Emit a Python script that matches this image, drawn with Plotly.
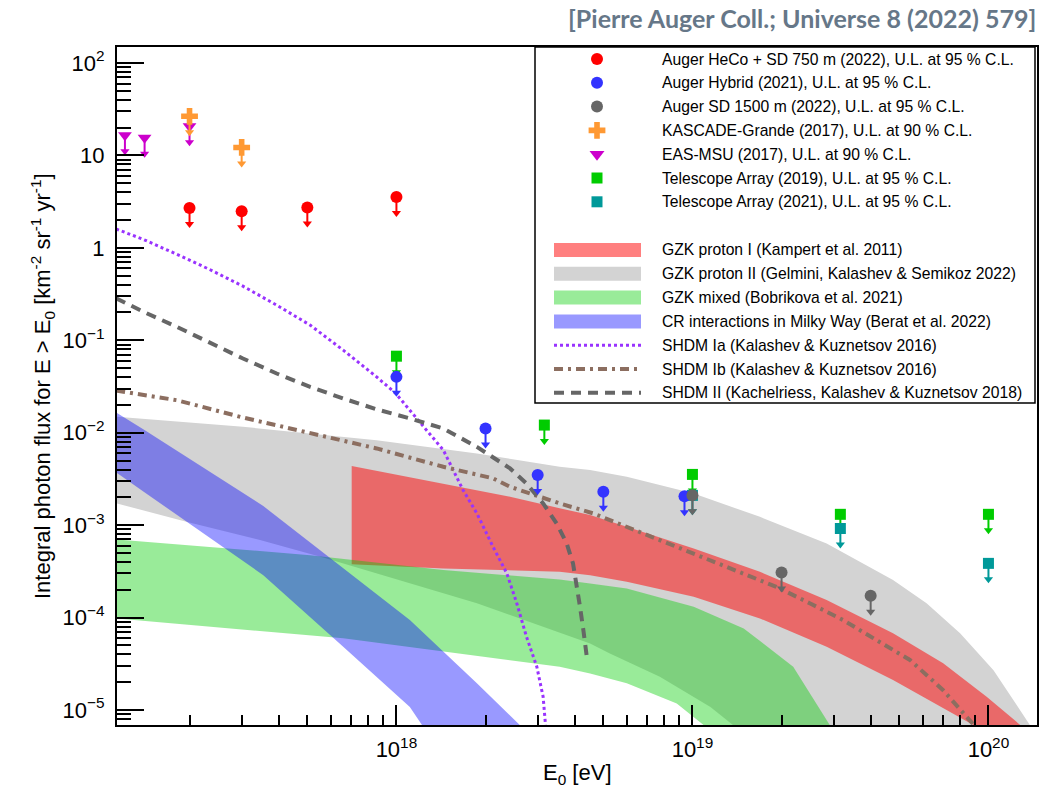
import plotly.graph_objects as go

# ---------------- measurements: integral photon flux upper limits ----------------
# threshold energy E0 [eV], flux [km^-2 sr^-1 yr^-1]
heco_E = [2e17, 3e17, 5e17, 1e18]
heco_F = [2.70, 2.49, 2.73, 3.56]

hybrid_E = [1e18, 2e18, 3e18, 5e18, 9.4e18]
hybrid_F = [0.0402, 0.0111, 0.00348, 0.0023, 0.00206]

sd1500_E = [1e19, 2e19, 4e19]
sd1500_F = [0.00211, 3.08e-4, 1.72e-4]

kascade_E = [2e17, 3e17]
kascade_F = [26.5, 12.2]

easmsu_E = [1.21e17, 1.41e17, 2e17]
easmsu_F = [16.5, 15.5, 20.7]

ta2019_E = [1e18, 3.16e18, 1e19, 3.16e19, 1e20]
ta2019_F = [0.0673, 0.0121, 0.00354, 0.00131, 0.00131]

ta2021_E = [1e19, 3.16e19, 1e20]
ta2021_F = [0.0021, 9.2e-4, 3.86e-4]

# ---------------- model bands (upper / lower edges) ----------------
gzk2_up_E = [1.135e17, 3.03e17, 8.57e17, 1.87e18, 3.56e18, 4.51e18, 6.0e18, 1.01e19,
             1.69e19, 2.84e19, 4.76e19, 6.18e19, 8.02e19, 1.04e20, 1.38e20]
gzk2_up_F = [0.01486, 0.0116, 0.0083, 0.00597, 0.00428, 0.00394, 0.00333, 0.0022,
             0.00123, 6.35e-4, 2.55e-4, 1.43e-4, 6.75e-5, 2.7e-5, 6.9e-6]
gzk2_lo_E = [1.135e17, 1.95e17, 3.46e17, 5.81e17, 1.11e18, 1.87e18, 4.51e18, 5.26e18,
             7.76e18, 1.15e19, 1.37e19]
gzk2_lo_F = [0.00172, 0.00109, 6.89e-4, 4.36e-4, 2.34e-4, 1.43e-4, 5.26e-5, 4.1e-5,
             2.29e-5, 1.08e-5, 6.9e-6]

gzk1_up_E = [7.06e17, 1.44e18, 2.42e18, 3.56e18, 4.51e18, 6.0e18, 1.01e19, 1.69e19,
             2.84e19, 4.76e19, 7.03e19, 9.86e19, 1.28e20]
gzk1_up_F = [0.00436, 0.00282, 0.00203, 0.00152, 0.00129, 9.6e-4, 5.6e-4, 3.13e-4,
             1.55e-4, 6.75e-5, 3.2e-5, 1.39e-5, 6.9e-6]
gzk1_lo_E = [7.06e17, 1.44e18, 3.56e18, 4.51e18, 6.0e18, 1.01e19, 1.69e19, 2.84e19,
             4.76e19, 8.89e19]
gzk1_lo_F = [3.77e-4, 3.4e-4, 3.13e-4, 2.88e-4, 2.44e-4, 1.68e-4, 9.8e-5, 4.83e-5,
             2.11e-5, 6.9e-6]

mixed_up_E = [1.135e17, 5.11e17, 1.44e18, 3.56e18, 4.51e18, 6.0e18, 1.01e19, 1.49e19,
              2.19e19, 2.91e19]
mixed_up_F = [7.0e-4, 4.74e-4, 3.27e-4, 2.59e-4, 2.34e-4, 2.07e-4, 1.31e-4, 7.64e-5,
              2.94e-5, 6.9e-6]
mixed_lo_E = [1.135e17, 6.61e17, 1.44e18, 3.56e18, 4.51e18, 6.0e18, 8.85e18, 1.09e19]
mixed_lo_F = [9.8e-5, 5.96e-5, 4.27e-5, 2.94e-5, 2.49e-5, 1.95e-5, 1.18e-5, 6.9e-6]

galcr_up_E = [1.135e17, 1.40e17, 3.55e17, 1.11e18, 1.87e18, 2.61e18]
galcr_up_F = [0.0164, 0.01084, 0.00161, 9.4e-5, 1.95e-5, 6.9e-6]
galcr_lo_E = [1.135e17, 1.40e17, 3.55e17, 6.61e17, 1.11e18, 1.22e18]
galcr_lo_F = [0.00368, 0.0023, 2.88e-4, 4.83e-5, 1.08e-5, 6.9e-6]

# ---------------- SHDM model curves ----------------
shdm1a_E = [1.13e17, 1.40e17, 1.81e17, 2.34e17, 3.03e17, 3.94e17, 5.11e17, 6.61e17,
            8.57e17, 9.95e17, 1.17e18, 1.44e18, 1.68e18, 1.87e18, 2.12e18, 2.36e18,
            2.55e18, 2.75e18, 2.98e18, 3.13e18, 3.19e18]
shdm1a_F = [1.60, 1.23, 0.853, 0.583, 0.385, 0.240, 0.146, 0.0782,
            0.0402, 0.0266, 0.0143, 0.00649, 0.00239, 0.00134, 5.83e-4, 3.01e-4,
            1.43e-4, 6.21e-5, 2.94e-5, 1.39e-5, 6.8e-6]

shdm1b_E = [1.13e17, 1.81e17, 3.03e17, 5.11e17, 8.57e17, 1.44e18, 2.12e18, 2.42e18,
            3.56e18, 4.62e18, 6.82e18, 1.01e19, 1.49e19, 1.92e19, 2.49e19, 3.23e19,
            4.19e19, 5.43e19, 7.03e19, 8.89e19]
shdm1b_F = [0.0285, 0.0225, 0.0146, 0.00982, 0.00676, 0.00428, 0.00321, 0.0026,
            0.00172, 0.00134, 8.15e-4, 4.94e-4, 3.01e-4, 2.15e-4, 1.43e-4, 9.4e-5,
            5.7e-5, 3.48e-5, 1.64e-5, 7.0e-6]

shdm2_E = [1.13e17, 1.40e17, 1.81e17, 2.34e17, 3.03e17, 3.94e17, 5.11e17, 6.61e17,
           8.57e17, 1.11e18, 1.44e18, 1.87e18, 2.42e18, 2.75e18, 3.13e18, 3.48e18,
           3.76e18, 3.95e18, 4.06e18, 4.17e18, 4.28e18, 4.37e18, 4.41e18]
shdm2_F = [0.285, 0.203, 0.140, 0.0938, 0.0635, 0.0437, 0.0313, 0.0235,
           0.0179, 0.0143, 0.0111, 0.00703, 0.00411, 0.00282, 0.00172, 0.00104,
           6.34e-4, 3.85e-4, 2.34e-4, 1.31e-4, 7.33e-5, 4.1e-5, 3.5e-5]

x_tick_vals = [1e18, 1e19, 1e20]
x_tick_text = ["10<sup>18</sup>", "10<sup>19</sup>", "10<sup>20</sup>"]
y_tick_vals = [1e-5, 1e-4, 1e-3, 1e-2, 1e-1, 1, 10, 100]
y_tick_text = ["10<sup>\u22125</sup>", "10<sup>\u22124</sup>", "10<sup>\u22123</sup>",
               "10<sup>\u22122</sup>", "10<sup>\u22121</sup>", "1", "10", "10<sup>2</sup>"]

# ---------------- geometry / style ----------------
W, H = 1053, 789
ML, MR, MT, MB = 117, 16, 47, 64
X_RANGE = [17.056, 20.164]
Y_RANGE = [-5.162, 2.173]
PLOT_W = W - ML - MR
PLOT_H = H - MT - MB
PX_PER_DEC_Y = PLOT_H / (Y_RANGE[1] - Y_RANGE[0])

FONT = "Liberation Sans"

RED = "#ff0000"
BLUE = "#3333ff"
GREY = "#666666"
ORANGE = "#ff9933"
MAGENTA = "#cc00cc"
GREEN = "#00cc00"
TEAL = "#009999"

FILL_GZK1 = "rgba(255,0,0,0.5)"
FILL_GZK2 = "rgb(211,211,211)"
FILL_MIXED = "rgba(0,204,0,0.4)"
FILL_GALCR = "rgba(0,0,255,0.4)"

COL_1A = "#9933ff"
COL_1B = "#8c6e60"
COL_2 = "#666666"
DASH_1A = "3px,3px"
DASH_1B = "9px,5px,3px,5px"
DASH_2 = "10px,7px"

ARROW_PX = 20      # length of the upper-limit arrows
HEAD_PX = 4        # offset of the arrow head centre above the tip

fig = go.Figure()


def band(up_E, up_F, lo_E, lo_F, color):
    fig.add_trace(go.Scatter(
        x=list(up_E) + list(lo_E)[::-1],
        y=list(up_F) + list(lo_F)[::-1],
        mode="lines", fill="toself", fillcolor=color,
        line=dict(width=0), hoverinfo="skip", showlegend=False))


def curve(E, F, color, dash, width):
    fig.add_trace(go.Scatter(x=E, y=F, mode="lines",
                             line=dict(color=color, dash=dash, width=width),
                             hoverinfo="skip", showlegend=False))


def limits(E, F, color, symbol, size):
    k_tip = 10 ** (-ARROW_PX / PX_PER_DEC_Y)
    k_head = 10 ** (HEAD_PX / PX_PER_DEC_Y)
    xs, ys = [], []
    for e, f in zip(E, F):
        xs += [e, e, None]
        ys += [f, f * k_tip * k_head, None]
    fig.add_trace(go.Scatter(x=xs, y=ys, mode="lines",
                             line=dict(color=color, width=2),
                             hoverinfo="skip", showlegend=False))
    fig.add_trace(go.Scatter(x=E, y=[f * k_tip * k_head for f in F], mode="markers",
                             marker=dict(symbol="triangle-down", size=8, color=color),
                             hoverinfo="skip", showlegend=False))
    fig.add_trace(go.Scatter(x=E, y=F, mode="markers",
                             marker=dict(symbol=symbol, size=size, color=color),
                             showlegend=False))


# bands
band(gzk2_up_E, gzk2_up_F, gzk2_lo_E, gzk2_lo_F, FILL_GZK2)
band(gzk1_up_E, gzk1_up_F, gzk1_lo_E, gzk1_lo_F, FILL_GZK1)
band(mixed_up_E, mixed_up_F, mixed_lo_E, mixed_lo_F, FILL_MIXED)
band(galcr_up_E, galcr_up_F, galcr_lo_E, galcr_lo_F, FILL_GALCR)

# SHDM curves
curve(shdm1a_E, shdm1a_F, COL_1A, DASH_1A, 3)
curve(shdm1b_E, shdm1b_F, COL_1B, DASH_1B, 4)
curve(shdm2_E, shdm2_F, COL_2, DASH_2, 4)

# upper limits
limits(easmsu_E, easmsu_F, MAGENTA, "triangle-down", 12)
limits(kascade_E, kascade_F, ORANGE, "cross", 14)
limits(heco_E, heco_F, RED, "circle", 12)
limits(ta2019_E, ta2019_F, GREEN, "square", 11)
limits(ta2021_E, ta2021_F, TEAL, "square", 11)
limits(hybrid_E, hybrid_F, BLUE, "circle", 12)
limits(sd1500_E, sd1500_F, GREY, "circle", 12)


# ---------------- legend (drawn in plot-area paper coordinates) ----------------
def xp(px):
    return (px - ML) / PLOT_W


def yp(py):
    return (H - MB - py) / PLOT_H


LEG_BOX = (535, 47, 1035, 403)
LEG_MARK_X = 597
LEG_TEXT_X = 660
LEG_ROW = 23.8
LEG_Y_MARK0 = 59
LEG_Y_BAND0 = 250
SWATCH_X = (554, 641)
SWATCH_H = 14

marker_entries = [
    ("Auger HeCo + SD 750 m (2022), U.L. at 95 % C.L.", RED, "circle", 12),
    ("Auger Hybrid (2021), U.L. at 95 % C.L.", BLUE, "circle", 12),
    ("Auger SD 1500 m (2022), U.L. at 95 % C.L.", GREY, "circle", 12),
    ("KASCADE-Grande (2017), U.L. at 90 % C.L.", ORANGE, "cross", 14),
    ("EAS-MSU (2017), U.L. at 90 % C.L.", MAGENTA, "triangle-down", 13),
    ("Telescope Array (2019), U.L. at 95 % C.L.", GREEN, "square", 11),
    ("Telescope Array (2021), U.L. at 95 % C.L.", TEAL, "square", 11),
]
band_entries = [
    ("GZK proton I (Kampert et al. 2011)", FILL_GZK1),
    ("GZK proton II (Gelmini, Kalashev & Semikoz 2022)", FILL_GZK2),
    ("GZK mixed (Bobrikova et al. 2021)", FILL_MIXED),
    ("CR interactions in Milky Way (Berat et al. 2022)", FILL_GALCR),
]
line_entries = [
    ("SHDM Ia (Kalashev & Kuznetsov 2016)", COL_1A, DASH_1A, 3),
    ("SHDM Ib (Kalashev & Kuznetsov 2016)", COL_1B, DASH_1B, 4),
    ("SHDM II (Kachelriess, Kalashev & Kuznetsov 2018)", COL_2, DASH_2, 4),
]

shapes = [dict(type="rect", xref="paper", yref="paper", layer="below",
               x0=xp(LEG_BOX[0]), x1=xp(LEG_BOX[2]), y0=yp(LEG_BOX[3]), y1=yp(LEG_BOX[1]),
               fillcolor="white", line=dict(color="black", width=1.5))]
annotations = []
LEG_FONT = dict(family=FONT, size=15.7, color="black")

for i, (label, color, symbol, size) in enumerate(marker_entries):
    py = LEG_Y_MARK0 + i * LEG_ROW
    fig.add_trace(go.Scatter(x=[xp(LEG_MARK_X)], y=[yp(py)], xaxis="x2", yaxis="y2",
                             mode="markers",
                             marker=dict(symbol=symbol, size=size, color=color),
                             hoverinfo="skip", showlegend=False))
    annotations.append(dict(x=xp(LEG_TEXT_X), y=yp(py), xref="paper", yref="paper",
                            text=label, showarrow=False, xanchor="left", yanchor="middle",
                            font=LEG_FONT))

for i, (label, color) in enumerate(band_entries):
    py = LEG_Y_BAND0 + i * LEG_ROW
    shapes.append(dict(type="rect", xref="paper", yref="paper", layer="below",
                       x0=xp(SWATCH_X[0]), x1=xp(SWATCH_X[1]),
                       y0=yp(py + SWATCH_H / 2), y1=yp(py - SWATCH_H / 2),
                       fillcolor=color, line=dict(width=0)))
    annotations.append(dict(x=xp(LEG_TEXT_X), y=yp(py), xref="paper", yref="paper",
                            text=label, showarrow=False, xanchor="left", yanchor="middle",
                            font=LEG_FONT))

for j, (label, color, dash, width) in enumerate(line_entries):
    py = LEG_Y_BAND0 + (len(band_entries) + j) * LEG_ROW
    shapes.append(dict(type="line", xref="paper", yref="paper", layer="below",
                       x0=xp(SWATCH_X[0]), x1=xp(SWATCH_X[1]), y0=yp(py), y1=yp(py),
                       line=dict(color=color, dash=dash, width=width)))
    annotations.append(dict(x=xp(LEG_TEXT_X), y=yp(py), xref="paper", yref="paper",
                            text=label, showarrow=False, xanchor="left", yanchor="middle",
                            font=LEG_FONT))

# reference line above the frame
annotations.append(dict(x=xp(1038), y=yp(18), xref="paper", yref="paper",
                        text="[Pierre Auger Coll.; Universe 8 (2022) 579]",
                        showarrow=False, xanchor="right", yanchor="middle",
                        font=dict(family="Lato", size=25, color="#667788", weight="bold")))

# axis titles
annotations.append(dict(x=xp(577), y=yp(774), xref="paper", yref="paper",
                        text="E<sub>0</sub> [eV]", showarrow=False,
                        xanchor="center", yanchor="middle",
                        font=dict(family=FONT, size=22, color="black")))
annotations.append(dict(x=xp(42), y=yp(386), xref="paper", yref="paper",
                        text="Integral photon flux for E > E<sub>0</sub> "
                             "[km<sup>-2</sup> sr<sup>-1</sup> yr<sup>-1</sup>]",
                        showarrow=False, textangle=-90,
                        xanchor="center", yanchor="middle",
                        font=dict(family=FONT, size=22, color="black")))

x_minor = [k * 10.0 ** n for n in range(17, 21) for k in range(2, 10)]
y_minor = [k * 10.0 ** n for n in range(-6, 3) for k in range(2, 10)]

fig.update_layout(
    width=W, height=H,
    margin=dict(l=ML, r=MR, t=MT, b=MB, pad=0),
    paper_bgcolor="white", plot_bgcolor="white",
    showlegend=False,
    font=dict(family=FONT, size=22, color="black"),
    xaxis=dict(type="log", range=X_RANGE, showgrid=False, zeroline=False,
               showline=True, linewidth=2, linecolor="black", mirror=True,
               tickmode="array", tickvals=x_tick_vals, ticktext=x_tick_text,
               ticks="inside", ticklen=20, tickwidth=1.5, tickcolor="black",
               ticklabelstandoff=4,
               tickfont=dict(family=FONT, size=22, color="black"),
               minor=dict(tickmode="array", tickvals=x_minor, ticks="inside",
                          ticklen=10, tickwidth=1.5, tickcolor="black", showgrid=False)),
    yaxis=dict(type="log", range=Y_RANGE, showgrid=False, zeroline=False,
               showline=True, linewidth=2, linecolor="black", mirror=True,
               tickmode="array", tickvals=y_tick_vals, ticktext=y_tick_text,
               ticks="inside", ticklen=27, tickwidth=1.5, tickcolor="black",
               ticklabelstandoff=6,
               tickfont=dict(family=FONT, size=22, color="black"),
               minor=dict(tickmode="array", tickvals=y_minor, ticks="inside",
                          ticklen=14, tickwidth=1.5, tickcolor="black", showgrid=False)),
    xaxis2=dict(overlaying="x", range=[0, 1], visible=False, anchor="y2",
                fixedrange=True),
    yaxis2=dict(overlaying="y", range=[0, 1], visible=False, anchor="x2",
                fixedrange=True),
    shapes=shapes,
    annotations=annotations,
)

fig.write_html("out.html")
